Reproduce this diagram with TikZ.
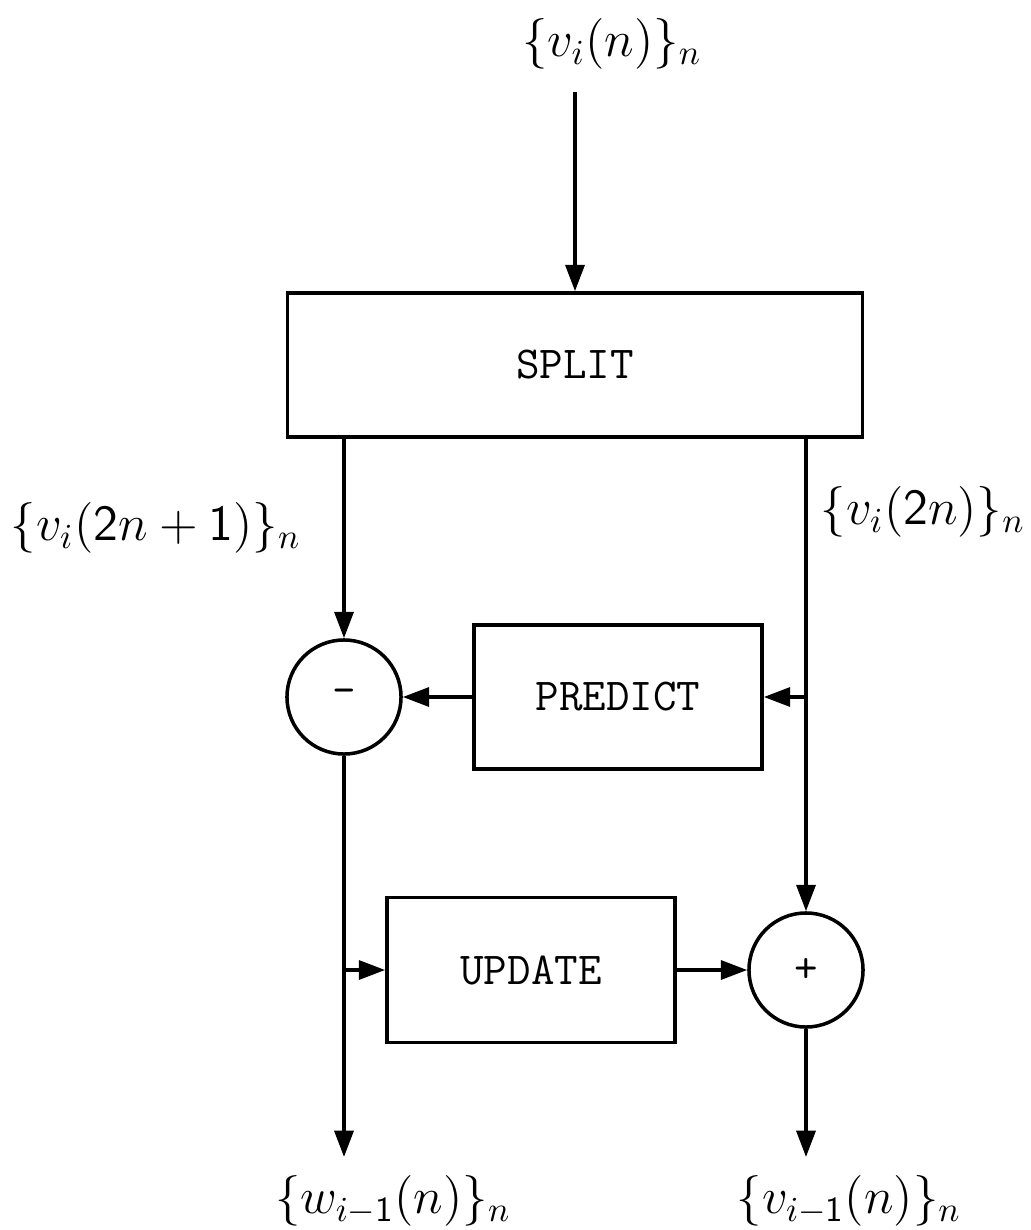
\documentclass[tikz,border=0pt]{standalone}
\usepackage{fontspec}
\usetikzlibrary{arrows.meta}

\tikzset{
  block/.style={draw, line width=1pt, minimum width=2.88cm, minimum height=1.44cm,
    font=\ttfamily\fontsize{13}{15}\selectfont},
  sumnode/.style={draw, circle, line width=1pt, minimum size=1.14cm, inner sep=0pt,
    font=\ttfamily\fontsize{13}{15}\selectfont},
  sig/.style={font=\Large},
  flow/.style={line width=1pt, -{Triangle[length=7.5pt,width=5.4pt]}}
}

\begin{document}
\begin{tikzpicture}[x=.01cm,y=-.01cm]
% \draw [help lines] (0,0) grid (1030,1230) ;
\useasboundingbox (0,0) rectangle (1030,1230) ;

% blocks
\node[block, minimum width=5.75cm] (split) at (575,365) {SPLIT} ;
\node[block] (predict) at (618,697) {PREDICT} ;
\node[block, minimum height=1.45cm] (update) at (531,970) {UPDATE} ;

\node[sumnode] (minus) at (344,697) {-} ;
\node[sumnode] (plus)  at (806,970) {+} ;

% signals
\node[sig] (vin)  at (612,44)   {$\{v_i(n)\}_n$} ;
\node[sig] (odd)  at (156,528)  {$\{v_i(\mathsf{2}n+\mathsf{1})\}_n$} ;
\node[sig] (even) at (923,512)  {$\{v_i(\mathsf{2}n)\}_n$} ;
\node[sig] (wout) at (393,1201) {$\{w_{i-\mathsf{1}}(n)\}_n$} ;
\node[sig] (vout) at (849,1201) {$\{v_{i-\mathsf{1}}(n)\}_n$} ;

\coordinate (top)  at (575,92) ;
\coordinate (wend) at (344,1157) ;
\coordinate (vend) at (806,1157) ;

% connections
\draw[flow] (top) -- (split) ;
\draw[flow] (split.south -| minus) -- (minus) ;
\draw[flow] (split.south -| plus) -- (plus) ;
\draw[flow] (predict -| plus) -- (predict.east) ;
\draw[flow] (predict.west) -- (minus.east) ;
\draw[flow] (minus) -- (wend) ;
\draw[flow] (update -| minus) -- (update.west) ;
\draw[flow] (update.east) -- (plus.west) ;
\draw[flow] (plus) -- (vend) ;
\end{tikzpicture}
\end{document}
